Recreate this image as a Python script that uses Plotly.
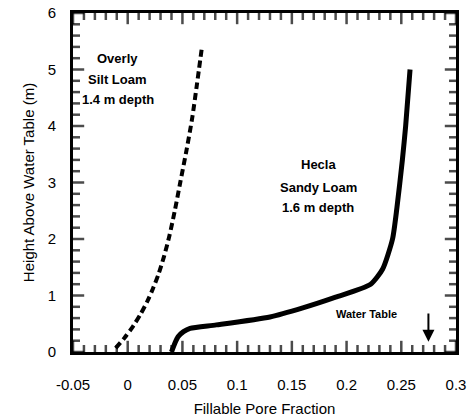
import plotly.graph_objects as go

# Overly silt loam (1.4 m depth) profile
silt_x = [-0.011, -0.003, 0.005, 0.012, 0.018, 0.023, 0.028, 0.033, 0.038, 0.043, 0.048, 0.054, 0.059, 0.063, 0.068]
silt_y = [0.07, 0.25, 0.46, 0.68, 0.90, 1.12, 1.37, 1.68, 2.05, 2.50, 3.00, 3.60, 4.15, 4.70, 5.42]

# Hecla sandy loam (1.6 m depth) profile
sand_x = [0.040, 0.043, 0.046, 0.051, 0.057, 0.081, 0.130, 0.160, 0.190, 0.222, 0.233, 0.242, 0.246, 0.251, 0.254, 0.258]
sand_y = [0.0, 0.15, 0.27, 0.36, 0.42, 0.48, 0.62, 0.78, 0.97, 1.2, 1.47, 2.0, 2.55, 3.4, 4.0, 5.0]

x_range = [-0.05, 0.3]
y_range = [0, 6]
x_ticks = [-0.05, 0, 0.05, 0.1, 0.15, 0.2, 0.25, 0.3]
x_labels = ["-0.05", "0", "0.05", "0.1", "0.15", "0.2", "0.25", "0.3"]
y_ticks = [0, 1, 2, 3, 4, 5, 6]
x_minor = [round(-0.05 + 0.01 * i, 2) for i in range(36)]
y_minor = [round(0.2 * i, 1) for i in range(31)]

font = "Liberation Sans, Arial, Helvetica, sans-serif"

fig = go.Figure()
fig.add_trace(go.Scatter(x=silt_x, y=silt_y, mode="lines",
                         line=dict(color="black", width=4, dash="7px,4px", shape="spline", smoothing=0.8),
                         showlegend=False))
fig.add_trace(go.Scatter(x=sand_x, y=sand_y, mode="lines",
                         line=dict(color="black", width=5, shape="spline", smoothing=0.6),
                         showlegend=False))

# Inward tick marks on all four sides: line markers centred on the frame,
# with the outer half clipped away by the plot area.
major_x, major_y = set(x_ticks), set(y_ticks)
tx = x_minor + x_minor
ty = [y_range[0]] * len(x_minor) + [y_range[1]] * len(x_minor)
ts = [16 if v in major_x else 10 for v in tx]
fig.add_trace(go.Scatter(x=tx, y=ty, mode="markers", cliponaxis=True, hoverinfo="skip",
                         marker=dict(symbol="line-ns", size=ts, color="black",
                                     line=dict(width=2.5, color="black")),
                         showlegend=False))
ux = [x_range[0]] * len(y_minor) + [x_range[1]] * len(y_minor)
uy = y_minor + y_minor
us = [16 if v in major_y else 10 for v in uy]
fig.add_trace(go.Scatter(x=ux, y=uy, mode="markers", cliponaxis=True, hoverinfo="skip",
                         marker=dict(symbol="line-ew", size=us, color="black",
                                     line=dict(width=2.5, color="black")),
                         showlegend=False))

axis_common = dict(showline=True, linecolor="black", linewidth=3, mirror=True, ticks="",
                   showgrid=False, zeroline=False, automargin=False,
                   tickfont=dict(family=font, size=15, color="black"))

fig.update_xaxes(range=x_range, tickmode="array", tickvals=x_ticks, ticktext=x_labels,
                 ticklabelstandoff=17,
                 title=dict(text="Fillable Pore Fraction", font=dict(family=font, size=15, color="black"), standoff=12),
                 **axis_common)
fig.update_yaxes(range=y_range, tickmode="array", tickvals=y_ticks, ticklabelstandoff=11,
                 title=dict(text="Height Above Water Table (m)", font=dict(family=font, size=15, color="black"), standoff=10),
                 **axis_common)

label_font = dict(family=font, size=13, color="black")
for text, y in (("Overly", 5.20), ("Silt Loam", 4.83), ("1.4 m depth", 4.47)):
    fig.add_annotation(x=-0.009, y=y, text=f"<b>{text}</b>", showarrow=False, font=label_font)
for text, y in (("Hecla", 3.31), ("Sandy Loam", 2.92), ("1.6 m depth", 2.55)):
    fig.add_annotation(x=0.174, y=y, text=f"<b>{text}</b>", showarrow=False, font=label_font)
fig.add_annotation(x=0.218, y=0.67, text="<b>Water Table</b>",
                   showarrow=False, font=dict(family=font, size=11, color="black"))
fig.add_annotation(x=0.2748, y=0.18, ax=0.2748, ay=0.71, xref="x", yref="y", axref="x", ayref="y",
                   text="", showarrow=True, arrowhead=2, arrowsize=1.2, arrowwidth=2, arrowcolor="black")

fig.update_layout(template="none", width=472, height=418, margin=dict(l=73, r=16, t=13, b=66),
                  plot_bgcolor="white", paper_bgcolor="white")

fig.write_html("out.html")
